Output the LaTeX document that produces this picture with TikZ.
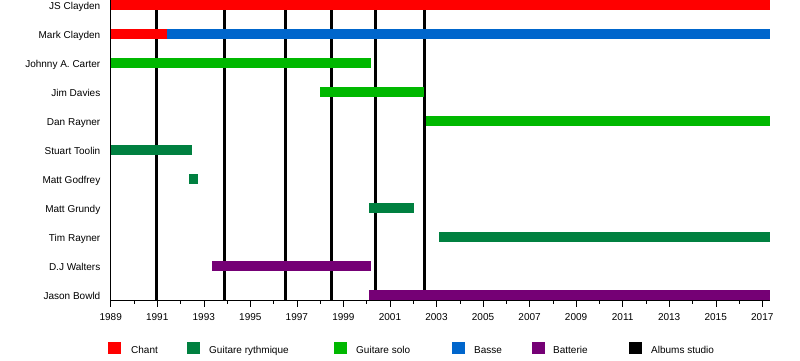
\documentclass[tikz,border=0pt]{standalone}
\usepackage{fontspec}
\setmainfont{Liberation Sans}
\definecolor{tlred}{RGB}{255,0,0}
\definecolor{tldkgreen}{RGB}{0,128,64}
\definecolor{tlgreen}{RGB}{0,184,0}
\definecolor{tlblue}{RGB}{0,102,204}
\definecolor{tlpurple}{RGB}{117,0,117}
\usetikzlibrary{positioning}

\begin{document}
\begin{tikzpicture}[x=1pt,y=-1pt,font=\fontsize{10}{12}\selectfont]
  \useasboundingbox (0,0) rectangle (800,360);
  % member names
  \node[anchor=base east,inner sep=0] (js) at (100.5,9.5) {JS Clayden};
  \node[anchor=base east,inner sep=0] (mark) at (100.5,38.5) {Mark Clayden};
  \node[anchor=base east,inner sep=0] (johnny) at (100.5,67.5) {Johnny A. Carter};
  \node[anchor=base east,inner sep=0] (jim) at (100.5,96.5) {Jim Davies};
  \node[anchor=base east,inner sep=0] (dan) at (100.5,125.5) {Dan Rayner};
  \node[anchor=base east,inner sep=0] (stuart) at (100.5,154.5) {Stuart Toolin};
  \node[anchor=base east,inner sep=0] (godfrey) at (100.5,183.5) {Matt Godfrey};
  \node[anchor=base east,inner sep=0] (grundy) at (100.5,212.5) {Matt Grundy};
  \node[anchor=base east,inner sep=0] (tim) at (100.5,241.5) {Tim Rayner};
  \node[anchor=base east,inner sep=0] (walters) at (100.5,270.5) {D.J Walters};
  \node[anchor=base east,inner sep=0] (jason) at (100.5,299.5) {Jason Bowld};
  \begin{scope}[x=23.27pt,shift={(110.7pt,0)}]
    % studio albums
    \draw[line width=3pt] (1990.95-1989,0) -- (1990.95-1989,300);
    \draw[line width=3pt] (1993.9-1989,0) -- (1993.9-1989,300);
    \draw[line width=3pt] (1996.5-1989,0) -- (1996.5-1989,300);
    \draw[line width=3pt] (1998.5-1989,0) -- (1998.5-1989,300);
    \draw[line width=3pt] (2000.4-1989,0) -- (2000.4-1989,300);
    \draw[line width=3pt] (2002.5-1989,0) -- (2002.5-1989,300);
    % axes
    \draw[line width=1pt] (0,0) -- (0,307);
    \draw[line width=1pt] (0,300) -- (2017.33-1989,300);
    \foreach \yr in {1990,...,2016} \draw (\yr-1989,300) -- ++(0,4);
    \foreach \yr in {1991,1993,...,2017} \draw (\yr-1989,300) -- ++(0,7);
    \foreach \yr in {1989,1991,...,2017}
      \node[anchor=base,inner sep=0] (y\yr) at (\yr-1989,320) {\yr};
    % bars
    \fill[tlred] (0,0) rectangle (2017.33-1989,10);
    \fill[tlred] (0,29) rectangle (1991.4-1989,39);
    \fill[tlblue] (1991.4-1989,29) rectangle (2017.33-1989,39);
    \fill[tlgreen] (0,58) rectangle (2000.2-1989,68);
    \fill[tlgreen] (1998-1989,87) rectangle (2002.45-1989,97);
    \fill[tlgreen] (2002.55-1989,116) rectangle (2017.33-1989,126);
    \fill[tldkgreen] (0,145) rectangle (1992.5-1989,155);
    \fill[tldkgreen] (1992.36-1989,174) rectangle (1992.75-1989,184);
    \fill[tldkgreen] (2000.1-1989,203) rectangle (2002.03-1989,213);
    \fill[tldkgreen] (2003.1-1989,232) rectangle (2017.33-1989,242);
    \fill[tlpurple] (1993.35-1989,261) rectangle (2000.2-1989,271);
    \fill[tlpurple] (2000.1-1989,290) rectangle (2017.33-1989,300);
  \end{scope}
  % legend
  \node[fill=tlred,minimum width=13pt,minimum height=12pt,inner sep=0] (kchant) at (114.5,348) {};
  \node[anchor=base west,inner sep=0] (lchant) at (131,353) {Chant};
  \node[fill=tldkgreen,minimum width=13pt,minimum height=12pt,inner sep=0] (krhythm) at (193.5,348) {};
  \node[anchor=base west,inner sep=0] (lrhythm) at (209,353) {Guitare rythmique};
  \node[fill=tlgreen,minimum width=13pt,minimum height=12pt,inner sep=0] (ksolo) at (340.5,348) {};
  \node[anchor=base west,inner sep=0] (lsolo) at (356,353) {Guitare solo};
  \node[fill=tlblue,minimum width=13pt,minimum height=12pt,inner sep=0] (kbass) at (458.5,348) {};
  \node[anchor=base west,inner sep=0] (lbass) at (474,353) {Basse};
  \node[fill=tlpurple,minimum width=13pt,minimum height=12pt,inner sep=0] (kdrums) at (538.5,348) {};
  \node[anchor=base west,inner sep=0] (ldrums) at (553,353) {Batterie};
  \node[fill=black,minimum width=13pt,minimum height=12pt,inner sep=0] (kalbum) at (635,348) {};
  \node[anchor=base west,inner sep=0] (lalbum) at (651,353) {Albums studio};
\end{tikzpicture}
\end{document}
